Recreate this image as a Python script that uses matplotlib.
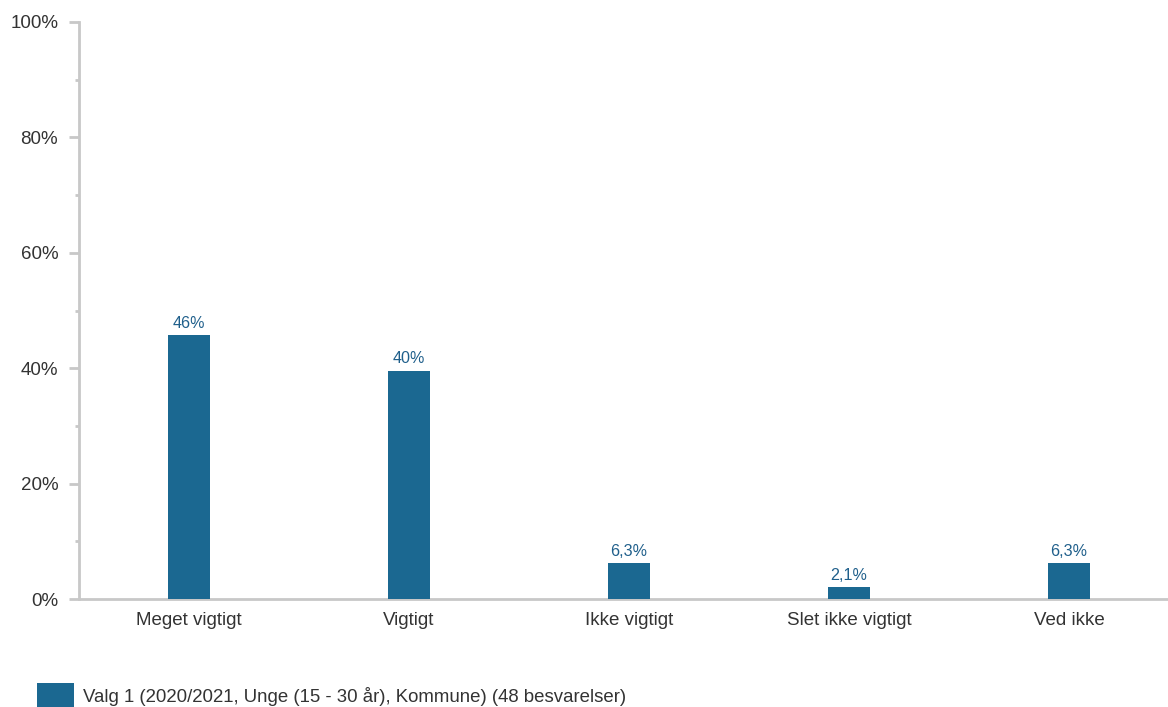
import matplotlib
matplotlib.use("Agg")
import matplotlib.pyplot as plt
from matplotlib.ticker import MultipleLocator, FuncFormatter
from matplotlib.patches import Rectangle

categories = ["Meget vigtigt", "Vigtigt", "Ikke vigtigt", "Slet ikke vigtigt", "Ved ikke"]
values = [45.8, 39.6, 6.25, 2.08, 6.25]
labels = ["46%", "40%", "6,3%", "2,1%", "6,3%"]
legend_label = "Valg 1 (2020/2021, Unge (15 - 30 år), Kommune) (48 besvarelser)"

bar_color = "#1b6891"
spine_color = "#c8c8c8"
text_color = "#333333"

plt.rcParams['font.family'] = ['Liberation Sans', 'DejaVu Sans']

fig = plt.figure(figsize=(11.68, 7.07), dpi=100)
W, H = 1168, 707
ax = fig.add_axes([79 / W, 1 - 599 / H, (1168 - 79) / W, (599 - 22) / H])

x = list(range(len(categories)))
ax.bar(x, values, width=0.188, color=bar_color, zorder=3)
for xi, v, lab in zip(x, values, labels):
    ax.annotate(lab, (xi, v), xytext=(0, 3), textcoords="offset points",
                ha="center", va="bottom", fontsize=11.6, color="#1f5f8b")

ax.set_xlim(-0.5, 4.45)
ax.set_ylim(0, 100)
ax.yaxis.set_major_locator(MultipleLocator(20))
ax.yaxis.set_minor_locator(MultipleLocator(10))
ax.yaxis.set_major_formatter(FuncFormatter(lambda v, p: f"{int(v)}%"))
ax.set_xticks(x)
ax.set_xticklabels(categories)

for s in ["top", "right"]:
    ax.spines[s].set_visible(False)
for s in ["left", "bottom"]:
    ax.spines[s].set_color(spine_color)
    ax.spines[s].set_linewidth(2)

ax.tick_params(axis="y", which="major", length=7.5, width=2, color=spine_color,
               labelsize=13.5, labelcolor=text_color, pad=7.5)
ax.tick_params(axis="y", which="minor", length=3, width=2, color=spine_color)
ax.tick_params(axis="x", length=0, labelsize=13.5, labelcolor=text_color, pad=9.5)

# legend
fig.patches.append(Rectangle((37 / W, 0), 37 / W, 24 / H, transform=fig.transFigure,
                             facecolor=bar_color, edgecolor="none"))
fig.text(83 / W, 1 - 696 / H, legend_label, fontsize=13.4, color=text_color,
         ha="left", va="center")

fig.savefig("out.png", dpi=100)
